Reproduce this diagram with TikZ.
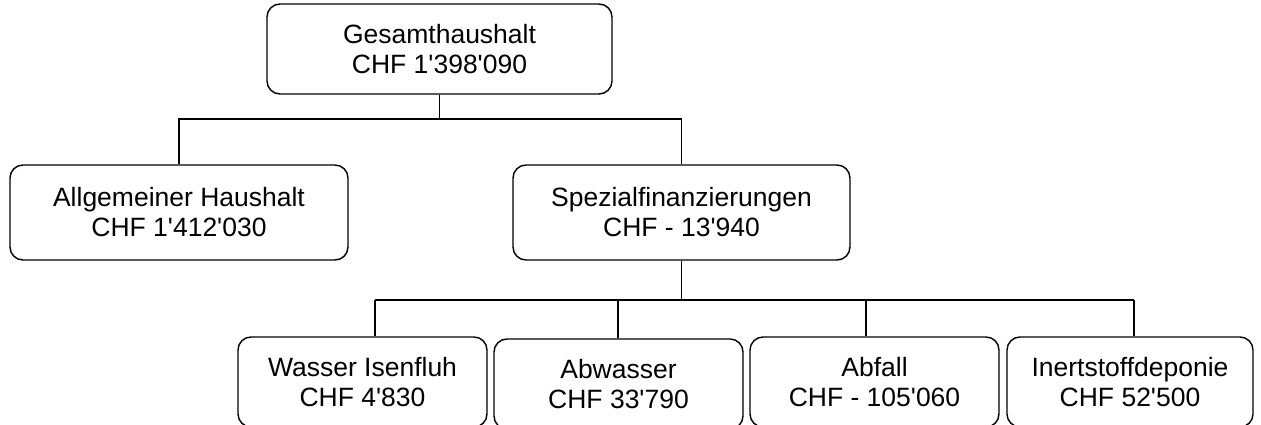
\documentclass[tikz,border=0pt]{standalone}
\usepackage{fontspec}
\setmainfont{Liberation Sans}[Ligatures=TeXOff]
\begin{document}
\begin{tikzpicture}[x=1pt,y=-1pt,
  box/.style={draw=black, line width=1.4pt, rounded corners=13pt, align=center,
    inner sep=0pt, font=\fontsize{26.5}{30}\selectfont},
  conn/.style={draw=black, line width=1.4pt}]
\useasboundingbox (0,0) rectangle (1261,425);
% nodes
\node[box, minimum width=345pt, minimum height=90pt] (top) at (439.5,49) {Gesamthaushalt\\CHF 1'398'090};
\node[box, minimum width=338pt, minimum height=95pt] (alg) at (179,212.5) {Allgemeiner Haushalt\\CHF 1'412'030};
\node[box, minimum width=337pt, minimum height=95pt] (spez) at (681.5,212.5) {Spezialfinanzierungen\\CHF - 13'940};
\node[box, minimum width=249pt, minimum height=90pt] (was) at (362.5,382) {Wasser Isenfluh\\CHF 4'830};
\node[box, minimum width=249pt, minimum height=90pt] (abw) at (618.5,384) {Abwasser\\CHF 33'790};
\node[box, minimum width=249pt, minimum height=90pt] (abf) at (874.5,382) {Abfall\\CHF - 105'060};
\node[box, minimum width=246pt, minimum height=90pt] (ine) at (1130,382) {Inertstoffdeponie\\CHF 52'500};
% junction coordinates
\coordinate (j1) at (439.5,119);
\coordinate (j2) at (681.5,300);
\coordinate (b1) at (375,300);
\coordinate (b2) at (618,300);
\coordinate (b3) at (866,300);
\coordinate (b4) at (1134,300);
% connectors
\draw[conn] (top.south) -- (j1);
\draw[conn] (alg.north) -- (alg.north |- j1) -- (spez.north |- j1) -- (spez.north);
\draw[conn] (spez.south) -- (j2);
\draw[conn] (b1) -- (b4);
\draw[conn] (b1) -- (b1 |- was.north);
\draw[conn] (b2) -- (b2 |- abw.north);
\draw[conn] (b3) -- (b3 |- abf.north);
\draw[conn] (b4) -- (b4 |- ine.north);
\end{tikzpicture}
\end{document}
